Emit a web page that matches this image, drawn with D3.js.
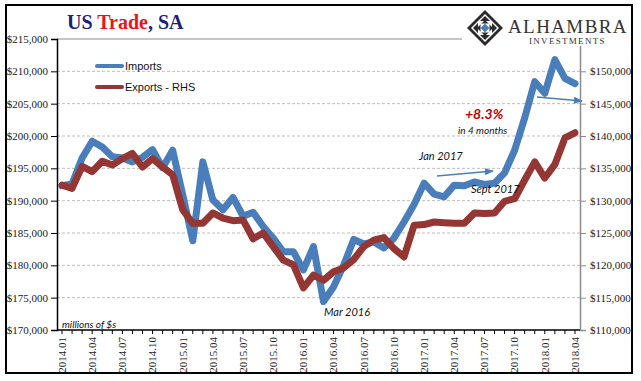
<!DOCTYPE html>
<html><head><meta charset="utf-8">
<script src="https://cdn.jsdelivr.net/npm/d3@7"></script>
<style>
html,body{margin:0;padding:0;background:#fff;}
svg{display:block;}
</style></head>
<body>
<svg id="chart" width="641" height="381"></svg>
<script>
const months = ["2014.01","2014.02","2014.03","2014.04","2014.05","2014.06","2014.07","2014.08","2014.09","2014.10","2014.11","2014.12",
"2015.01","2015.02","2015.03","2015.04","2015.05","2015.06","2015.07","2015.08","2015.09","2015.10","2015.11","2015.12",
"2016.01","2016.02","2016.03","2016.04","2016.05","2016.06","2016.07","2016.08","2016.09","2016.10","2016.11","2016.12",
"2017.01","2017.02","2017.03","2017.04","2017.05","2017.06","2017.07","2017.08","2017.09","2017.10","2017.11","2017.12",
"2018.01","2018.02","2018.03","2018.04"];
const imports = [192300,192600,196600,199200,198300,196800,196600,196000,196700,197900,195100,197800,
190900,183800,196000,190100,188600,190500,187600,188200,186000,184200,182100,182100,
179300,182900,174400,176700,180000,184000,183300,183600,182700,184200,186700,189400,
192700,191000,190600,192400,192300,192900,192500,192700,194300,197800,202800,208400,
206600,211800,208900,208100];
const exportsRHS = [132400,131900,135300,134500,136100,135500,136500,137300,135200,136500,135200,134000,
128600,126500,126500,128100,127300,126900,127000,124100,125000,122900,120800,120100,
116500,118500,117700,119000,119600,120900,122900,123900,124300,122600,121300,126200,
126300,126700,126600,126500,126500,128100,128000,128100,129900,130300,133200,136000,
133500,135600,139700,140500];
const leftTicks = [170000,175000,180000,185000,190000,195000,200000,205000,210000,215000];
const rightTicks = [110000,115000,120000,125000,130000,135000,140000,145000,150000];
const xLabelMonths = months.filter((m,i)=> i%3===0);

const svg = d3.select("#chart");
const L=57, R=580, T=39, B=330;
const blue="#4a7ebb", red="#943634";

const x = d3.scaleBand().domain(months).range([L,R]).padding(0);
const yL = d3.scaleLinear().domain([170000,215000]).range([B,T]);
const yR = d3.scaleLinear().domain([110000,155000]).range([B,T]);
const cx = m => x(m) + x.bandwidth()/2;
const fmt = d3.format("$,");

// gridlines
svg.append("g").selectAll("line").data(leftTicks.filter(v=>v>170000 && v<215000)).join("line")
  .attr("x1",L).attr("x2",R).attr("y1",d=>yL(d)).attr("y2",d=>yL(d))
  .attr("stroke","#bdbdbd").attr("stroke-width",1).attr("stroke-dasharray","3,2");
svg.append("line").attr("x1",L).attr("x2",R).attr("y1",yL(215000)).attr("y2",yL(215000))
  .attr("stroke","#8c8c8c").attr("stroke-width",1);

// left axis
const gL = svg.append("g").attr("transform",`translate(${L},0)`)
  .call(d3.axisLeft(yL).tickValues(leftTicks).tickFormat(fmt).tickSize(6).tickPadding(3));
gL.select(".domain").attr("stroke","#000").attr("stroke-width",1.5);
gL.selectAll(".tick line").attr("stroke","#000");
gL.selectAll("text").attr("font-family","Liberation Serif").attr("font-size",11).attr("fill","#1a1a1a");

// right axis
const gR = svg.append("g").attr("transform",`translate(${R},0)`)
  .call(d3.axisRight(yR).tickValues(rightTicks).tickFormat(fmt).tickSize(6).tickPadding(4));
gR.select(".domain").attr("stroke","#8c8c8c").attr("stroke-width",1.5);
gR.selectAll(".tick line").attr("stroke","#8c8c8c");
gR.selectAll("text").attr("font-family","Liberation Serif").attr("font-size",11).attr("fill","#1a1a1a");

// bottom axis
const xAxis = d3.axisBottom(x).tickSize(4).tickFormat(d=> xLabelMonths.includes(d)?d:"");
const gB = svg.append("g").attr("transform",`translate(0,${B})`).call(xAxis);
gB.select(".domain").attr("stroke","#000").attr("stroke-width",1.5).attr("d",`M${L},0H${R}`);
gB.selectAll(".tick line").attr("stroke","#000");
gB.selectAll("text").attr("font-family","Liberation Serif").attr("font-size",11).attr("fill","#1a1a1a")
  .attr("transform","rotate(-90)").attr("text-anchor","end").attr("x",-7).attr("y",0).attr("dy","0.35em");

// lines
const lineL = d3.line().x((d,i)=>cx(months[i])).y(d=>yL(d));
const lineR = d3.line().x((d,i)=>cx(months[i])).y(d=>yR(d));
svg.append("path").datum(exportsRHS).attr("d",lineR).attr("fill","none").attr("stroke",red)
  .attr("stroke-width",7).attr("stroke-linejoin","round").attr("stroke-linecap","round");
svg.append("path").datum(imports).attr("d",lineL).attr("fill","none").attr("stroke",blue)
  .attr("stroke-width",7).attr("stroke-linejoin","round").attr("stroke-linecap","round");
// exports on top where crossing? Excel draws series order: imports first then exports
svg.selectAll("path").filter(function(){return d3.select(this).attr("stroke")===red;}).raise();

// legend
const legend = [{name:"Imports",c:blue,y:66},{name:"Exports - RHS",c:red,y:87}];
legend.forEach(l=>{
  svg.append("line").attr("x1",97).attr("x2",122).attr("y1",l.y).attr("y2",l.y)
    .attr("stroke",l.c).attr("stroke-width",4).attr("stroke-linecap","round");
  svg.append("text").attr("x",125).attr("y",l.y+4).text(l.name)
    .attr("font-family","Liberation Sans").attr("font-size",11).attr("fill","#111");
});

// title
const title = svg.append("text").attr("x",67).attr("y",29).attr("font-family","Liberation Serif")
  .attr("font-size",20).attr("font-weight","bold");
title.append("tspan").text("US ").attr("fill","#1f1f7a");
title.append("tspan").text("Trade").attr("fill","#e8141b");
title.append("tspan").text(", SA").attr("fill","#1f1f7a");

// logo
const logo = svg.append("g");
logo.append("rect").attr("x",462).attr("y",7).attr("width",168).attr("height",39).attr("fill","#fff");
const lx=485, ly=28;
const dia = r => `M${lx},${ly-r}L${lx+r},${ly}L${lx},${ly+r}L${lx-r},${ly}Z`;
logo.append("path").attr("d",dia(18)).attr("fill","#2a2a2a");
logo.append("path").attr("d",dia(14)).attr("fill","#fff");
logo.append("path").attr("d",dia(12)).attr("fill","#2a2a2a");
logo.append("rect").attr("x",lx-7).attr("y",ly-7).attr("width",14).attr("height",14).attr("fill","#fff");
logo.append("path").attr("d",dia(8)).attr("fill","#2a2a2a");
logo.append("rect").attr("x",lx-4.5).attr("y",ly-4.5).attr("width",9).attr("height",9).attr("fill","#fff");
logo.append("path").attr("d",dia(4.5)).attr("fill",blue);
logo.append("text").attr("x",508).attr("y",33).text("ALHAMBRA").attr("font-family","Liberation Serif")
  .attr("font-size",19).attr("letter-spacing",1.4).attr("fill","#333");
logo.append("text").attr("x",529).attr("y",44).text("INVESTMENTS").attr("font-family","Liberation Serif")
  .attr("font-size",9).attr("letter-spacing",1.3).attr("fill","#333");

// annotations
const ann = (t,xx,yy,size,opts={})=>svg.append("text").attr("x",xx).attr("y",yy).text(t)
  .attr("font-family","Lato").attr("font-style","italic").attr("font-size",size)
  .attr("font-weight",opts.w||"normal").attr("fill",opts.c||"#111").attr("text-anchor",opts.a||"start");
ann("+8.3%",465,119,14,{w:"bold",c:"#c00000"});
ann("in 4 months",458,134,10);
ann("Jan 2017",419,160,11);
ann("Sept 2017",471,193,11);
ann("Mar 2016",324,316,11);
ann("millions of $s",62,328,10);

// arrows
svg.append("defs").append("marker").attr("id","ah").attr("viewBox","0 0 10 10").attr("refX",9).attr("refY",5)
  .attr("markerWidth",6).attr("markerHeight",6).attr("orient","auto")
  .append("path").attr("d","M0,1L10,5L0,9Z").attr("fill",blue);
[[437,176,493,171],[537,97,582,101]].forEach(a=>{
  svg.append("line").attr("x1",a[0]).attr("y1",a[1]).attr("x2",a[2]).attr("y2",a[3])
    .attr("stroke",blue).attr("stroke-width",1.5).attr("marker-end","url(#ah)");
});

// frame
svg.append("rect").attr("x",6).attr("y",5).attr("width",626).attr("height",368)
  .attr("fill","none").attr("stroke","#000").attr("stroke-width",2);
</script>
</body></html>
